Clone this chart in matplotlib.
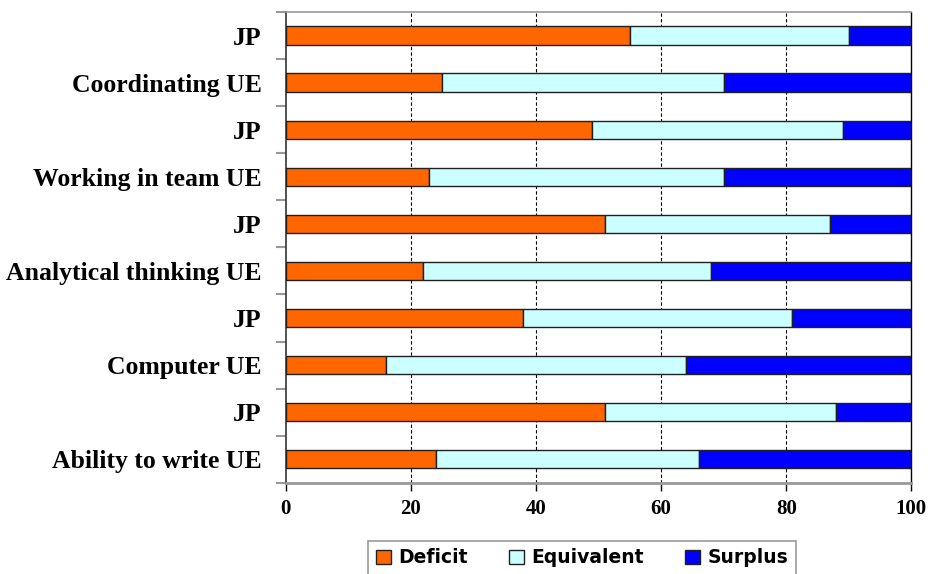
import matplotlib.pyplot as plt
import numpy as np

# categories from bottom to top
categories = ['Ability to write UE', 'JP', 'Computer UE', 'JP', 'Analytical thinking UE',
              'JP', 'Working in team UE', 'JP', 'Coordinating UE', 'JP']
deficit = [24, 51, 16, 38, 22, 51, 23, 49, 25, 55]
equivalent = [42, 37, 48, 43, 46, 36, 47, 40, 45, 35]
surplus = [34, 12, 36, 19, 32, 13, 30, 11, 30, 10]
series_names = ['Deficit', 'Equivalent', 'Surplus']
colors = ['#FF6600', '#CCFFFF', '#0000FF']
xticks = [0, 20, 40, 60, 80, 100]

fig = plt.figure(figsize=(9.3, 5.74), dpi=100)
ax = fig.add_axes([0.307, 0.159, 0.673, 0.82])

y = np.arange(len(categories))
left = np.zeros(len(categories))
for vals, name, col in zip([deficit, equivalent, surplus], series_names, colors):
    ax.barh(y, vals, left=left, height=0.39, color=col, edgecolor='#202020',
            linewidth=1.0, label=name, zorder=3)
    left += np.array(vals)

ax.set_xlim(0, 100)
ax.set_ylim(-0.5, len(categories) - 0.5)

# dashed vertical grid
for xv in xticks[1:-1]:
    ax.axvline(xv, color='black', linestyle=(0, (3, 2)), linewidth=0.8, zorder=1)

ax.set_xticks(xticks)
ax.set_xticklabels([str(v) for v in xticks], fontfamily='Liberation Serif',
                   fontweight='bold', fontsize=15)
ax.tick_params(axis='x', direction='out', length=6, width=1, color='black', pad=6)

ax.set_yticks(y)
ax.set_yticklabels(categories, fontfamily='Liberation Serif', fontweight='bold', fontsize=18.5)
ax.set_yticks(np.arange(-0.5, len(categories)), minor=True)
ax.tick_params(axis='y', which='major', length=0, pad=17)
ax.tick_params(axis='y', which='minor', length=7, width=1.5, color='#999999', direction='out')

ax.spines['left'].set_color('#333333')
ax.spines['left'].set_linewidth(1.2)
ax.spines['right'].set_color('black')
ax.spines['right'].set_linewidth(1.0)
ax.spines['top'].set_color('#999999')
ax.spines['top'].set_linewidth(1.2)
ax.spines['bottom'].set_color('#999999')
ax.spines['bottom'].set_linewidth(2.0)

leg = ax.legend(loc='upper center', bbox_to_anchor=(0.626, 0.058), bbox_transform=fig.transFigure,
                ncol=3, frameon=True, fancybox=False, edgecolor='#808080', borderaxespad=0,
                prop={'family': 'DejaVu Sans', 'weight': 'bold', 'size': 13.5},
                handlelength=0.8, handleheight=0.8, handletextpad=0.4, columnspacing=2.2,
                borderpad=0.4)
leg.get_frame().set_linewidth(1.2)

fig.savefig('out.png', dpi=100)
